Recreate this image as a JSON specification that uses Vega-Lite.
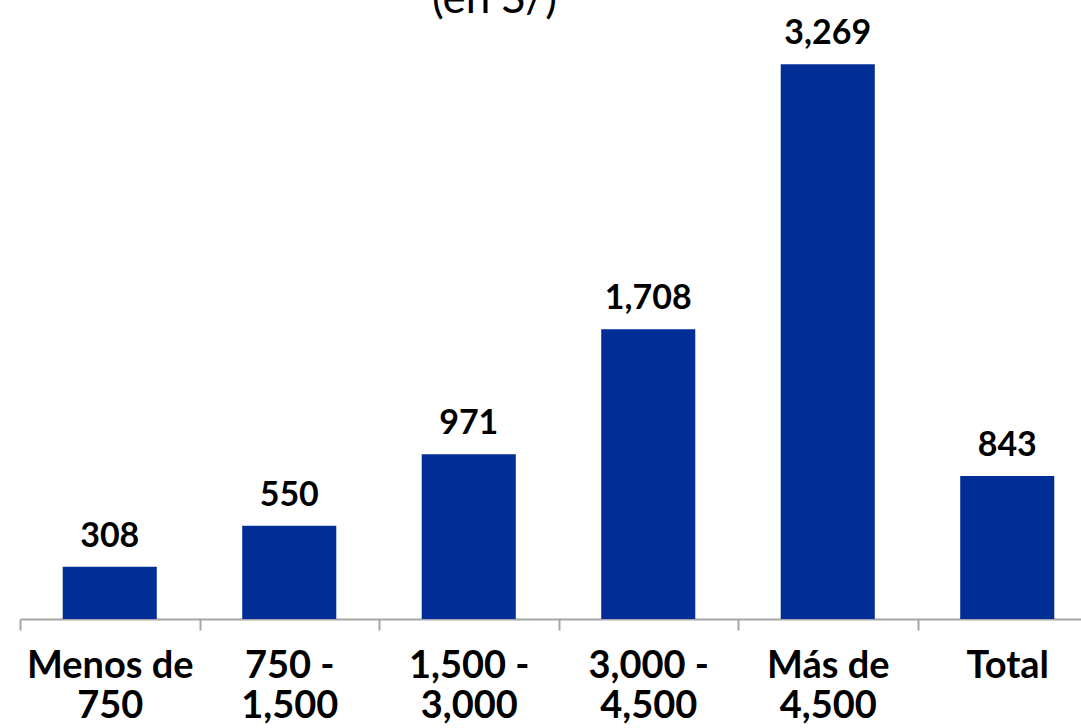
{
  "$schema": "https://vega.github.io/schema/vega-lite/v6.json",
  "width": 1061,
  "height": 594,
  "autosize": {"type": "none"},
  "padding": {"left": 20, "top": 25, "right": 0, "bottom": 109},
  "background": "white",
  "title": {
    "text": "(en S/)",
    "font": "Lato",
    "fontSize": 44,
    "fontWeight": "normal",
    "color": "#000000",
    "anchor": "middle",
    "frame": "group",
    "baseline": "alphabetic",
    "offset": -40,
    "dx": -56
  },
  "data": {
    "values": [
      {"rango": "Menos de 750", "valor": 308},
      {"rango": "750 - 1,500", "valor": 550},
      {"rango": "1,500 - 3,000", "valor": 971},
      {"rango": "3,000 - 4,500", "valor": 1708},
      {"rango": "Más de 4,500", "valor": 3269},
      {"rango": "Total", "valor": 843}
    ]
  },
  "config": {
    "view": {"stroke": null},
    "font": "Lato"
  },
  "encoding": {
    "x": {
      "field": "rango",
      "type": "nominal",
      "sort": null,
      "scale": {"range": [0, 1077], "paddingInner": 0, "paddingOuter": 0},
      "axis": {
        "title": null,
        "labelAngle": 0,
        "labelFont": "Lato",
        "labelFontSize": 38,
        "labelFontWeight": "bold",
        "labelColor": "#000000",
        "labelLineHeight": 40,
        "labelBaseline": "top",
        "labelPadding": 17,
        "tickBand": "extent",
        "tickSize": 11,
        "tickColor": "#A6A6A6",
        "tickWidth": 2,
        "domainColor": "#A6A6A6",
        "domainWidth": 2,
        "grid": false,
        "labelExpr": "lastindexof(datum.label, ' ') > 0 ? [substring(datum.label, 0, lastindexof(datum.label, ' ')), substring(datum.label, lastindexof(datum.label, ' ') + 1)] : datum.label"
      }
    },
    "y": {
      "field": "valor",
      "type": "quantitative",
      "scale": {"domain": [0, 3500], "nice": false},
      "axis": null
    }
  },
  "layer": [
    {"mark": {"type": "bar", "color": "#002D96", "width": {"band": 0.524}}},
    {
      "mark": {
        "type": "text",
        "font": "Lato",
        "fontSize": 34,
        "fontWeight": "bold",
        "color": "#000000",
        "baseline": "alphabetic",
        "dy": -20
      },
      "encoding": {"text": {"field": "valor", "type": "quantitative", "format": ","}}
    }
  ]
}
